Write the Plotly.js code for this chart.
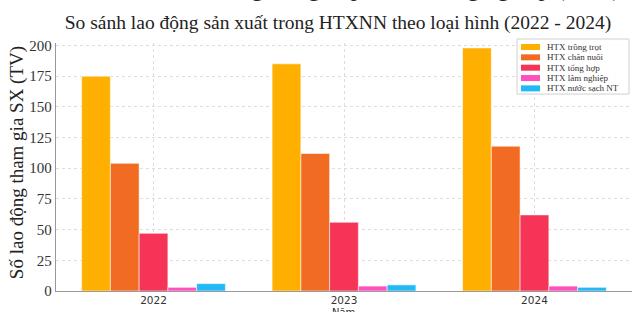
<!DOCTYPE html>
<html>
<head>
<meta charset="utf-8">
<script src="https://cdn.plot.ly/plotly-3.0.1.min.js"></script>
<style>html,body{margin:0;padding:0;background:#fff;}#chart{width:632px;height:312px;}</style>
</head>
<body>
<div id="chart"></div>
<script>
const years = ['2022', '2023', '2024'];
const seriesNames = ['HTX trồng trọt', 'HTX chăn nuôi', 'HTX tổng hợp', 'HTX lâm nghiệp', 'HTX nước sạch NT'];
const trongTrot = [175, 185, 198];
const chanNuoi = [104, 112, 118];
const tongHop = [47, 56, 62];
const lamNghiep = [3, 4, 4];
const nuocSach = [6, 5, 3];
const seriesValues = [trongTrot, chanNuoi, tongHop, lamNghiep, nuocSach];
const colors = ['#FFAF00', '#F26B23', '#F53457', '#FF50BE', '#22B9F8'];
const yTicks = [0, 25, 50, 75, 100, 125, 150, 175, 200];

const W = 632, H = 312;
const L = 56, R = 0, T = 43, B = 21.3;
const pw = W - L - R, ph = H - T - B;
const px2x = p => (p - L) / pw;
const py2y = p => (H - B - p) / ph;

const traces = seriesNames.map((n, i) => ({
  type: 'bar', name: n, x: years, y: seriesValues[i],
  marker: {color: colors[i], line: {color: 'rgba(255,255,255,0.55)', width: 1}},
  showlegend: false, hoverinfo: 'x+y+name'
}));

const shapes = [];
const annotations = [];
// legend box
shapes.push({type: 'rect', xref: 'paper', yref: 'paper', x0: px2x(517), x1: px2x(629), y0: py2y(39), y1: py2y(94),
  line: {color: '#d0d0d0', width: 1}, fillcolor: 'rgba(255,255,255,0.85)', layer: 'above'});
seriesNames.forEach((n, i) => {
  const cy = 47 + i * 10.33;
  shapes.push({type: 'rect', xref: 'paper', yref: 'paper', x0: px2x(521), x1: px2x(540), y0: py2y(cy + 3), y1: py2y(cy - 3),
    line: {width: 0}, fillcolor: colors[i], layer: 'above'});
  annotations.push({xref: 'paper', yref: 'paper', x: px2x(545), y: py2y(cy), xanchor: 'left', yanchor: 'middle',
    text: n, showarrow: false, font: {family: 'Liberation Serif', size: 9, color: '#333'}});
});
// y axis title
annotations.push({xref: 'paper', yref: 'paper', x: px2x(17), y: py2y(163), textangle: -90, xanchor: 'center', yanchor: 'middle',
  text: 'Số lao động tham gia SX (TV)', showarrow: false, font: {family: 'Liberation Serif', size: 19, color: '#222'}});
// x axis title
annotations.push({xref: 'paper', yref: 'paper', x: px2x(343), y: py2y(312), xanchor: 'center', yanchor: 'middle',
  text: 'Năm', showarrow: false, font: {family: 'DejaVu Sans', size: 10, color: '#333'}});
// main title (cropped at top)
annotations.push({xref: 'paper', yref: 'paper', x: px2x(396), y: py2y(3), xanchor: 'center', yanchor: 'bottom',
  text: 'Lao động trong hợp tác xã nông nghiệp (2024)', showarrow: false, font: {family: 'Liberation Serif', size: 24, color: '#222'}});

const layout = {
  width: W, height: H,
  margin: {l: L, r: R, t: T, b: B, pad: 0},
  paper_bgcolor: '#fff', plot_bgcolor: '#fff',
  barmode: 'group', bargap: 0.245, bargroupgap: 0,
  title: {text: 'So sánh lao động sản xuất trong HTXNN theo loại hình (2022 - 2024)',
    font: {family: 'Liberation Serif', size: 19.5, color: '#222'},
    x: px2x(338) * pw / W + L / W, xanchor: 'center', y: 1 - 22 / H, yanchor: 'middle'},
  xaxis: {type: 'category', range: [-0.512, 2.512], showline: true, linecolor: '#999', linewidth: 1.3,
    showgrid: true, gridcolor: '#dddddd', griddash: 'dot', gridwidth: 1, ticks: '',
    tickfont: {family: 'DejaVu Sans', size: 10.5, color: '#333'}, zeroline: false, ticklabelstandoff: -1},
  yaxis: {range: [0, 202], tickvals: yTicks, ticktext: yTicks.map(String), showline: true, linecolor: '#999', linewidth: 1.3,
    showgrid: true, gridcolor: '#dddddd', griddash: 'dot', gridwidth: 1, ticks: '', zeroline: false,
    tickfont: {family: 'Liberation Serif', size: 15, color: '#333'}},
  shapes: shapes, annotations: annotations, showlegend: false
};
Plotly.newPlot('chart', traces, layout, {displayModeBar: false, staticPlot: true});
</script>
</body>
</html>
